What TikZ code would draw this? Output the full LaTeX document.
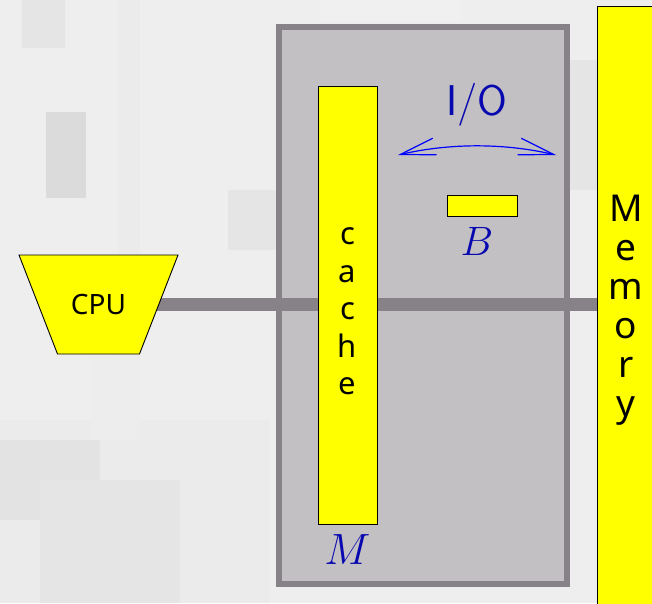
\documentclass[tikz,border=0pt]{standalone}
\usepackage{graphicx}
\usepackage{fontspec}
\newfontfamily\noto{Noto Sans}
\usetikzlibrary{arrows.meta}
\definecolor{bg}{HTML}{EEEEEE}
\definecolor{boxfill}{HTML}{C3C0C3}
\definecolor{boxline}{HTML}{878287}
\definecolor{lbl}{HTML}{0808B0}
\definecolor{ylw}{RGB}{255,255,0}
\definecolor{arrblue}{RGB}{0,0,255}
\pgfdeclarelayer{back}
\pgfdeclarelayer{mid}
\pgfsetlayers{back,mid,main}
\tikzset{
  ybox/.style={draw=black, line width=0.9pt, fill=ylw, inner sep=0pt, outer sep=0pt},
  patch/.style={fill=black!#1, draw=none},
  lbltext/.style={text=lbl, inner sep=0pt},
  stack/.style={align=center, inner sep=0pt},
  busline/.style={draw=boxline, line width=13pt},
  ioarrow/.style={draw=arrblue, line width=1.2pt, {Straight Barb[length=35pt,width=17pt]}-{Straight Barb[length=35pt,width=17pt]}}
}
\begin{document}
\begin{tikzpicture}[x=1pt,y=-1pt]
\useasboundingbox (0,0) rectangle (652,603);
\clip (0,0) rectangle (652,603);
\begin{pgfonlayer}{back}
  \fill[bg] (0,0) rectangle (652,603);
  % blurry photo-like background patches
  \fill[patch=10] (22,0) rectangle (65,48);
  \fill[patch=8] (118,0) rectangle (140,603);
  \fill[patch=14] (46,112) rectangle (86,198);
  \fill[patch=10] (228,190) rectangle (280,250);
  \fill[patch=8] (0,420) rectangle (270,603);
  \fill[patch=11] (0,440) rectangle (100,520);
  \fill[patch=10] (40,480) rectangle (180,603);
  \fill[patch=7] (90,355) rectangle (140,440);
  \fill[patch=10] (570,60) rectangle (597,190);
  \fill[patch=6] (320,0) rectangle (460,22);
  % gray box
  \node[draw=boxline, line width=6pt, fill=boxfill, minimum width=288pt, minimum height=557pt, inner sep=0pt] (box) at (423,305.5) {};
\end{pgfonlayer}

% memory
\node[ybox, anchor=north west, minimum width=80pt, minimum height=640pt] (mem) at (597,6) {};
\node[stack, font=\noto\fontsize{37}{39}\selectfont] (memtxt) at (626,310) {M\\e\\m\\o\\r\\y};

% cache
\node[ybox, minimum width=59pt, minimum height=438pt] (cache) at (347.5,305) {};
\node[stack, font=\noto\fontsize{31}{37.5}\selectfont] (cachetxt) at (347.5,311.5) {c\\a\\c\\h\\e};
\node[lbltext, font=\fontsize{24.88}{26}\selectfont, anchor=base] (mlbl) at (347.5,564) {\scalebox{1.76}{$M$}};

% block B
\node[ybox, minimum width=70pt, minimum height=21pt] (brect) at (482,205.5) {};
\node[lbltext, font=\fontsize{24.88}{26}\selectfont, anchor=base] (blbl) at (477,255) {\scalebox{1.65}{$B$}};

% I/O
\node[lbltext, font=\sffamily\fontsize{43}{45}\selectfont, anchor=base] (io) at (477,115) {I/O};
\coordinate (ioL) at (398,155);
\coordinate (ioR) at (556,155);
\draw[ioarrow] (ioL) .. controls +(52,-12) and +(-52,-12) .. (ioR);

% CPU
\node[inner sep=0pt, minimum width=159pt, minimum height=99pt] (cpu) at (98.5,304.5) {};
\draw[ybox] ([shift={(-79.5,-49.5)}]cpu.center) -- ([shift={(79.5,-49.5)}]cpu.center)
  -- ([shift={(41,49.5)}]cpu.center) -- ([shift={(-41,49.5)}]cpu.center) -- cycle;
\node[inner sep=0pt, font=\noto\fontsize{28}{30}\selectfont] (cputxt) at (cpu.center) {CPU};

% bus
\begin{pgfonlayer}{mid}
  \draw[busline] (cpu.center) -- (cpu.center -| mem.west);
\end{pgfonlayer}
\end{tikzpicture}
\end{document}
